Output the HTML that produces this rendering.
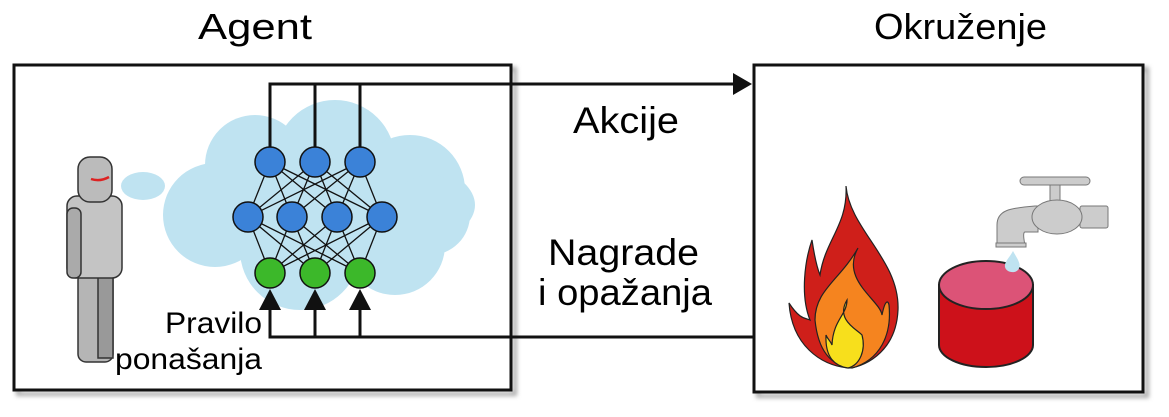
<!DOCTYPE html>
<html><head><meta charset="utf-8"><style>body{margin:0;background:#fff}svg{display:block}text{font-family:"Liberation Sans",sans-serif}</style></head><body>
<svg width="1169" height="417" viewBox="0 0 1169 417" xmlns="http://www.w3.org/2000/svg" font-family="Liberation Sans, sans-serif">
<defs><filter id="sh"><feGaussianBlur stdDeviation="2"/></filter></defs>
<rect x="18" y="69" width="497" height="325" fill="none" stroke="#aaa" stroke-width="4" filter="url(#sh)"/>
<rect x="758" y="69" width="389" height="327" fill="none" stroke="#aaa" stroke-width="4" filter="url(#sh)"/>
<rect x="14" y="65" width="497" height="325" fill="#fff" stroke="#111" stroke-width="3"/>
<rect x="754" y="65" width="389" height="327" fill="#fff" stroke="#111" stroke-width="3"/>
<text x="198" y="39" font-size="36" textLength="114" lengthAdjust="spacingAndGlyphs">Agent</text>
<text x="874" y="39" font-size="36" textLength="173" lengthAdjust="spacingAndGlyphs">Okruženje</text>
<!-- cloud -->
<g fill="#bfe3f1">
<ellipse cx="320" cy="205" rx="155" ry="60"/>
<circle cx="255" cy="165" r="50"/><circle cx="335" cy="160" r="60"/><circle cx="410" cy="190" r="55"/>
<circle cx="215" cy="215" r="52"/><circle cx="300" cy="250" r="60"/><circle cx="395" cy="245" r="50"/>
<circle cx="430" cy="215" r="40"/>
<ellipse cx="143" cy="186" rx="22" ry="14"/>
</g>
<!-- figure -->
<g stroke="#333" stroke-width="1.5">
<rect x="78" y="272" width="35" height="90" rx="8" fill="#b5b5b5"/>
<rect x="98" y="272" width="15" height="86" fill="#999"/>
<rect x="67" y="196" width="55" height="82" rx="10" fill="#c4c4c4"/>
<rect x="67" y="208" width="14" height="70" rx="6" fill="#aaa"/>
<rect x="78" y="157" width="34" height="45" rx="12" fill="#bbb"/>
</g>
<path d="M91 179 Q100 182 109 177" stroke="#d22" stroke-width="2.5" fill="none"/>
<g stroke="#111" stroke-width="1.3">
<line x1="270" y1="162" x2="248" y2="217"/><line x1="270" y1="162" x2="292" y2="217"/><line x1="270" y1="162" x2="337" y2="217"/><line x1="270" y1="162" x2="382" y2="217"/>
<line x1="315" y1="162" x2="248" y2="217"/><line x1="315" y1="162" x2="292" y2="217"/><line x1="315" y1="162" x2="337" y2="217"/><line x1="315" y1="162" x2="382" y2="217"/>
<line x1="360" y1="162" x2="248" y2="217"/><line x1="360" y1="162" x2="292" y2="217"/><line x1="360" y1="162" x2="337" y2="217"/><line x1="360" y1="162" x2="382" y2="217"/>
<line x1="270" y1="273" x2="248" y2="217"/><line x1="270" y1="273" x2="292" y2="217"/><line x1="270" y1="273" x2="337" y2="217"/><line x1="270" y1="273" x2="382" y2="217"/>
<line x1="315" y1="273" x2="248" y2="217"/><line x1="315" y1="273" x2="292" y2="217"/><line x1="315" y1="273" x2="337" y2="217"/><line x1="315" y1="273" x2="382" y2="217"/>
<line x1="360" y1="273" x2="248" y2="217"/><line x1="360" y1="273" x2="292" y2="217"/><line x1="360" y1="273" x2="337" y2="217"/><line x1="360" y1="273" x2="382" y2="217"/>
</g>
<g stroke="#111" stroke-width="3" fill="none">
<path d="M270 162 V84 H735"/><path d="M315 162 V84"/><path d="M360 162 V84"/>
<path d="M270 300 V337 H754"/><path d="M315 300 V337"/><path d="M360 300 V337"/>
</g>
<polygon points="733,73 752,84 733,95" fill="#111"/>
<g fill="#111"><polygon points="259,310 270,289 281,310"/><polygon points="304,310 315,289 326,310"/><polygon points="349,310 360,289 371,310"/></g>
<g stroke="#111" stroke-width="1.5">
<g fill="#3b82d8"><circle cx="270" cy="162" r="15"/><circle cx="315" cy="162" r="15"/><circle cx="360" cy="162" r="15"/>
<circle cx="248" cy="217" r="15"/><circle cx="292" cy="217" r="15"/><circle cx="337" cy="217" r="15"/><circle cx="382" cy="217" r="15"/></g>
<g fill="#3cb82a"><circle cx="270" cy="273" r="15"/><circle cx="315" cy="273" r="15"/><circle cx="360" cy="273" r="15"/></g>
</g>
<text x="165" y="333" font-size="30" textLength="97" lengthAdjust="spacingAndGlyphs">Pravilo</text>
<text x="115" y="369" font-size="30" textLength="147" lengthAdjust="spacingAndGlyphs">ponašanja</text>
<text x="573" y="133" font-size="37" textLength="106" lengthAdjust="spacingAndGlyphs">Akcije</text>
<text x="548" y="265" font-size="37" textLength="151" lengthAdjust="spacingAndGlyphs">Nagrade</text>
<text x="538" y="305" font-size="37" textLength="174" lengthAdjust="spacingAndGlyphs">i opažanja</text>
<!-- fire -->
<g stroke="#222" stroke-width="1.2">
<path d="M846 186 C850 230 900 260 898 310 C896 355 860 368 848 368 C820 365 792 345 789 303 C800 320 806 318 810 320 C800 295 805 260 812 240 C815 260 818 270 820 275 C825 240 848 225 846 186 Z" fill="#cf1f1a"/>
<path d="M858 248 C840 280 880 300 882 315 C885 300 888 300 889 305 C892 335 880 360 852 368 C830 366 818 350 815 320 C815 290 840 280 858 248 Z" fill="#f5841f"/>
<path d="M847 300 C835 320 858 330 862 335 C866 350 860 365 848 368 C835 366 825 358 826 335 C828 340 830 340 832 345 C833 320 847 315 847 300 Z" fill="#f7df1c"/>
</g>
<g stroke="#222" stroke-width="2">
<path d="M939 285 V345 A47 22 0 0 0 1033 345 V285 Z" fill="#cd111a"/>
<ellipse cx="986" cy="285" rx="47" ry="24" fill="#dc5377"/>
</g>
<path d="M1013 251 C1018 260 1022 265 1018 270 C1014 274 1006 272 1005 267 C1004 262 1010 257 1013 251 Z" fill="#bfe3f1"/>
<g stroke="#777" stroke-width="1" fill="#ccc">
<rect x="1020" y="177" width="70" height="8" rx="4"/>
<rect x="1050" y="185" width="10" height="18"/>
<path d="M997 245 V225 C997 210 1010 208 1035 206 H1038 V232 H1025 C1022 232 1025 245 1025 245 Z"/>
<rect x="1080" y="206" width="28" height="22" rx="2"/>
<ellipse cx="1057" cy="217" rx="25" ry="17"/>
<rect x="996" y="243" width="30" height="4"/>
</g>
</svg>
</body></html>
